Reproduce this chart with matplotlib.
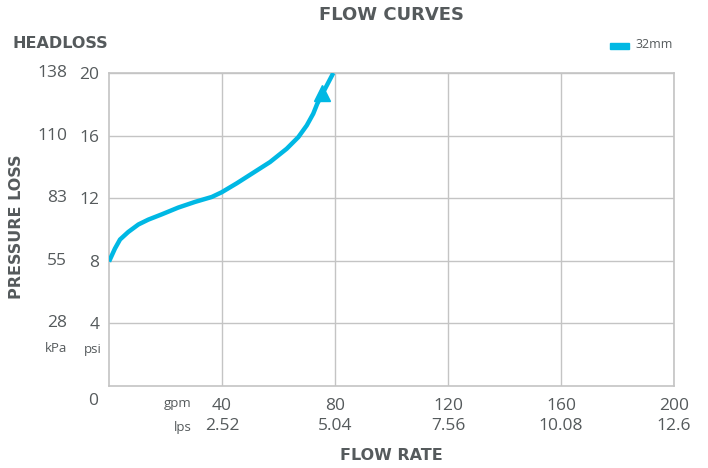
import matplotlib
matplotlib.use('Agg')
import matplotlib.pyplot as plt

plt.rcParams['font.family'] = ['Open Sans', 'DejaVu Sans']

# data (gpm vs psi)
flow_gpm = [0, 2.1, 3.9, 6.8, 10.4, 13.9, 18.7, 24.5, 30.4, 36.4, 39.9, 45.2,
            51.1, 57.0, 62.9, 67.0, 70.0, 72.3, 73.7, 79.4]
loss_psi = [7.95, 8.78, 9.36, 9.84, 10.32, 10.63, 10.97, 11.40, 11.76, 12.08, 12.38, 12.95,
            13.63, 14.31, 15.16, 15.90, 16.65, 17.40, 18.03, 20.0]
arrow_at = (75.4, 18.7)

gpm_ticks = [40, 80, 120, 160, 200]
lps_labels = ['2.52', '5.04', '7.56', '10.08', '12.6']
psi_ticks = [4, 8, 12, 16, 20]
kpa_labels = ['28', '55', '83', '110', '138']

txt = '#555a5c'
grid_c = '#c4c4c4'
cyan = '#00b8e4'
bold_font = ['DejaVu Sans']

W, H = 708, 468
fig = plt.figure(figsize=(W / 100, H / 100), dpi=100)
ax = fig.add_axes([109 / W, 1 - 386 / H, (674 - 109) / W, (386 - 73) / H])

ax.plot(flow_gpm, loss_psi, color=cyan, lw=3.2, solid_capstyle='butt',
        solid_joinstyle='round', zorder=3)
ax.plot([arrow_at[0]], [arrow_at[1]], marker='^', ms=11, color=cyan, zorder=4)

ax.set_xlim(0, 200)
ax.set_ylim(0, 20)
ax.set_xticks(gpm_ticks)
ax.set_xticklabels([str(v) for v in gpm_ticks])
ax.set_yticks(psi_ticks)
ax.set_yticklabels([str(v) for v in psi_ticks])
ax.tick_params(length=0, colors=txt, labelsize=12.5)
ax.tick_params(axis='x', pad=9)
ax.tick_params(axis='y', pad=7)
ax.grid(True, color=grid_c, lw=1)
for s in ax.spines.values():
    s.set_color(grid_c)
    s.set_linewidth(1.2)

# second unit rows
for v, lab in zip(gpm_ticks, lps_labels):
    ax.text(v, -0.128, lab, transform=ax.get_xaxis_transform(), ha='center', va='center',
            fontsize=12.5, color=txt)
for v, lab in zip(psi_ticks, kpa_labels):
    ax.text(-0.074, v, lab, transform=ax.get_yaxis_transform(), ha='right', va='center',
            fontsize=12.5, color=txt)

def ftext(x, y, s, **kw):
    fig.text(x / W, 1 - y / H, s, color=txt, **kw)

ftext(98, 401, '0', ha='right', va='center', fontsize=12.5)
ftext(67, 349, 'kPa', ha='right', va='center', fontsize=9.5)
ftext(102, 349, 'psi', ha='right', va='center', fontsize=9.5)
ftext(192, 404, 'gpm', ha='right', va='center', fontsize=9.5)
ftext(192, 428, 'lps', ha='right', va='center', fontsize=9.5)

ftext(391, 15, 'FLOW CURVES', ha='center', va='center', fontsize=13, fontweight='bold',
      family=bold_font)
ftext(12, 43, 'HEADLOSS', ha='left', va='center', fontsize=11.5, fontweight='bold',
      family=bold_font)
ftext(17, 227, 'PRESSURE LOSS', ha='center', va='center', fontsize=11.5, fontweight='bold',
      rotation=90, family=bold_font)
ftext(391, 455, 'FLOW RATE', ha='center', va='center', fontsize=11.5, fontweight='bold',
      family=bold_font)

# legend
fig.patches.append(plt.Rectangle((610 / W, 1 - 49 / H), 19 / W, 6 / H,
                                 transform=fig.transFigure, color=cyan))
ftext(636, 45, '32mm', ha='left', va='center', fontsize=9)

fig.savefig('out.png', dpi=100)
